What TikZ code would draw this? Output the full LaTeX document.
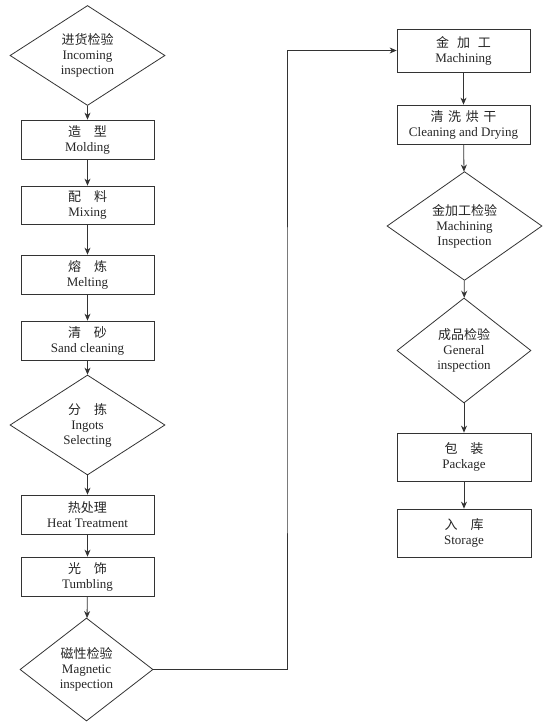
\documentclass[tikz,border=0pt]{standalone}
\usepackage{fontspec}
\setmainfont{Liberation Serif}
\newfontfamily\cjk{Noto Sans CJK SC}
\usetikzlibrary{shapes.geometric,arrows.meta}
\begin{document}
\begin{tikzpicture}[x=1pt,y=-1pt,
  every node/.style={font=\fontsize{13}{15}\selectfont, align=center, text=black!85},
  procbox/.style={draw=black!80, line width=0.8pt, rectangle, minimum width=133pt, inner sep=0pt},
  decide/.style={draw=black!80, line width=0.8pt, diamond, inner sep=0pt},
  flow/.style={draw=black!80, line width=0.8pt, -{Stealth[length=7pt,width=6pt]}}
]
\fill[white] (0,0) rectangle (553,726);
\useasboundingbox (0,0) rectangle (553,726);

% left column
\node[decide, minimum width=155pt, minimum height=100pt] (d1) at (87.5,55.5) {{\cjk 进货检验}\\Incoming\\inspection};
\node[procbox, minimum height=39pt] (b1) at (87.5,139.5) {{\cjk 造\quad 型}\\Molding};
\node[procbox, minimum height=38pt] (b2) at (87.5,205) {{\cjk 配\quad 料}\\Mixing};
\node[procbox, minimum height=39pt] (b3) at (87.5,274.5) {{\cjk 熔\quad 炼}\\Melting};
\node[procbox, minimum height=39pt] (b4) at (87.5,340.5) {{\cjk 清\quad 砂}\\Sand cleaning};
\node[decide, minimum width=155pt, minimum height=100pt] (d2) at (87.5,425) {{\cjk 分\quad 拣}\\Ingots\\Selecting};
\node[procbox, minimum height=39pt] (b5) at (87.5,514.5) {{\cjk 热处理}\\Heat Treatment};
\node[procbox, minimum height=39pt] (b6) at (87.5,576.5) {{\cjk 光\quad 饰}\\Tumbling};
\node[decide, minimum width=133pt, minimum height=103pt] (d3) at (86.5,669.5) {{\cjk 磁性检验}\\Magnetic\\inspection};

% right column
\node[procbox, minimum height=43pt] (m1) at (463.5,50.5) {{\cjk 金\hspace{0.6em}加\hspace{0.6em}工}\\Machining};
\node[procbox, minimum height=39pt] (m2) at (463.5,124.5) {{\cjk 清\hspace{0.35em}洗\hspace{0.35em}烘\hspace{0.35em}干}\\Cleaning and Drying};
\node[decide, minimum width=155pt, minimum height=104pt] (d4) at (464.5,226) {{\cjk 金加工检验}\\Machining\\Inspection};
\node[decide, minimum width=134pt, minimum height=105pt] (d5) at (464,350.5) {{\cjk 成品检验}\\General\\inspection};
\node[procbox, minimum width=134pt, minimum height=48pt] (m3) at (464,457) {{\cjk 包\quad 装}\\Package};
\node[procbox, minimum width=134pt, minimum height=48pt] (m4) at (464,533) {{\cjk 入\quad 库}\\Storage};

\coordinate (turn) at (287,400);

\draw[flow] (d1) -- (b1);
\draw[flow] (b1) -- (b2);
\draw[flow] (b2) -- (b3);
\draw[flow] (b3) -- (b4);
\draw[flow] (b4) -- (d2);
\draw[flow] (d2) -- (b5);
\draw[flow] (b5) -- (b6);
\draw[flow] (b6) -- (d3);
\draw[flow] (d3.east) -| (turn) |- (m1.west);
\draw[flow] (m1) -- (m2);
\draw[flow] (m2) -- (d4);
\draw[flow] (d4) -- (d5);
\draw[flow] (d5) -- (m3);
\draw[flow] (m3) -- (m4);
\end{tikzpicture}
\end{document}
